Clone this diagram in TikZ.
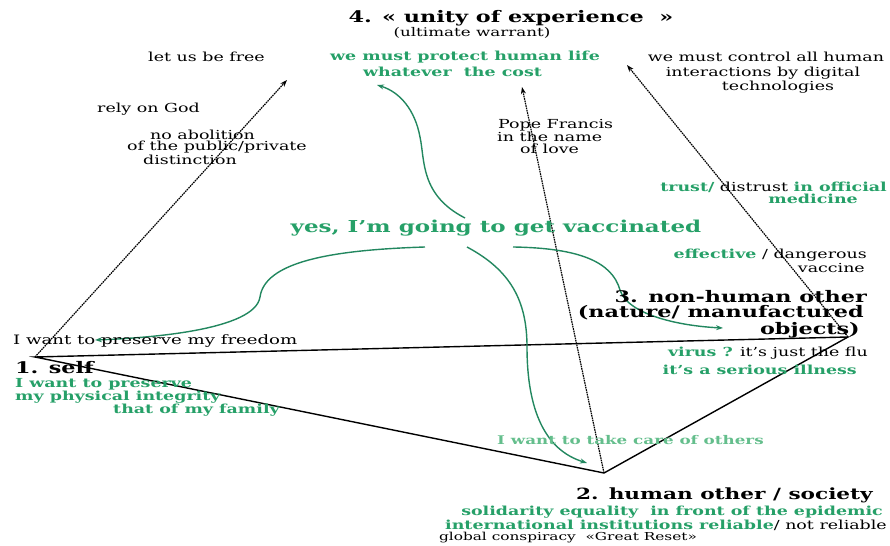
\documentclass[tikz,border=0pt]{standalone}
\usepackage{fontspec}
\setmainfont{DejaVu Serif}[FakeStretch=1.4]
\usetikzlibrary{arrows.meta}
\definecolor{vgreen}{RGB}{38,160,104}
\definecolor{cgreen}{RGB}{34,135,95}
\definecolor{pgreen}{RGB}{100,190,140}
\begin{document}
\begin{tikzpicture}[x=1bp,y=-1bp,
  txt/.style={inner sep=0pt, anchor=west, font=\fontsize{12.5}{14}\selectfont},
  gtxt/.style={txt, text=vgreen, font=\fontsize{12.5}{14}\selectfont\bfseries},
  head/.style={txt, font=\fontsize{16}{18}\selectfont\bfseries},
  side/.style={line width=1.4bp, black},
  axis/.style={dash pattern=on 1.6bp off 0.8bp, line width=1.2bp, -{Stealth[length=7bp,width=5bp]}},
  flow/.style={cgreen, line width=1.4bp, -{Stealth[length=7bp,width=5bp]}}
]
\useasboundingbox (0,0) rectangle (890,546);

% corners of the triangle
\coordinate (self) at (35,357);
\coordinate (hum) at (604,473);
\coordinate (nonhum) at (848,337);

% tips of the dotted axes
\coordinate (freeTip) at (287,80);
\coordinate (popeTip) at (522,87);
\coordinate (ctrlTip) at (627,65);

% ends of the green arrows
\coordinate (yesL) at (425,247);
\coordinate (yesU) at (465,218);
\coordinate (yesD) at (467,247);
\coordinate (yesR) at (513,247);
\coordinate (endL) at (95,340);
\coordinate (endU) at (377,85);
\coordinate (endD) at (587,463);
\coordinate (endR) at (723,328);

% triangle
\draw[side] (self) -- (nonhum) -- (hum) -- cycle;

% dotted axes
\draw[axis] (self) -- (freeTip);
\draw[axis] (hum) -- (popeTip);
\draw[axis] (nonhum) -- (ctrlTip);

% green arrows from the central statement
\draw[flow] (yesL) .. controls (330,250) and (265,262) .. (260,297)
  .. controls (255,330) and (150,338) .. (endL);
\draw[flow] (yesU) .. controls (420,195) and (425,160) .. (420,137)
  .. controls (415,110) and (400,92) .. (endU);
\draw[flow] (yesD) .. controls (510,270) and (527,300) .. (527,347)
  .. controls (527,410) and (545,450) .. (endD);
\draw[flow] (yesR) .. controls (580,248) and (612,262) .. (620,290)
  .. controls (628,315) and (680,326) .. (endR);

% pole 4
\node[head, anchor=center] (t4) at (511,18) {4. « unity of experience~ »};
\node[txt, anchor=center, font=\fontsize{12}{14}\selectfont] (tw) at (472,33) {(ultimate warrant)};
\node[txt] (free) at (148,57) {let us be free};
\node[gtxt] (prot1) at (330,57) {we must protect human life};
\node[gtxt] (prot2) at (363,72) {whatever~ the cost};
\node[txt, anchor=center] (ctrl1) at (766,57) {we must control all human};
\node[txt, anchor=center] (ctrl2) at (763,73) {interactions by digital};
\node[txt, anchor=center] (ctrl3) at (778,87) {technologies};
\node[txt] (god) at (97,109) {rely on God};
\node[txt] (abol1) at (150,135) {no abolition};
\node[txt] (abol2) at (127,147) {of the public/private};
\node[txt] (abol3) at (143,160) {distinction};
\node[txt] (pope1) at (498,125) {Pope Francis};
\node[txt] (pope2) at (497,137) {in the name};
\node[txt] (pope3) at (520,149) {of love};

% centre
\node[gtxt, anchor=center, font=\fontsize{16.5}{18}\selectfont\bfseries] (yes) at (496,228) {yes, I'm going to get vaccinated};

% pole 3
\node[txt, anchor=east] (trust1) at (887,187) {\textcolor{vgreen}{\bfseries trust/} distrust \textcolor{vgreen}{\bfseries in official}};
\node[gtxt, anchor=east] (trust2) at (858,199) {medicine};
\node[txt, anchor=east] (eff1) at (867,255) {\textcolor{vgreen}{\bfseries effective} / dangerous};
\node[txt, anchor=east] (eff2) at (865,268) {vaccine};
\node[head, anchor=east] (h3a) at (867,297) {3. non-human other};
\node[head, anchor=east] (h3b) at (864,313) {(nature/ manufactured};
\node[head, anchor=east] (h3c) at (860,330) {objects)};
\node[txt, anchor=east] (vir1) at (868,353) {\textcolor{vgreen}{\bfseries virus ?} it's just the flu};
\node[gtxt, anchor=east] (vir2) at (857,370) {it's a serious illness};

% pole 1
\node[txt, font=\fontsize{13}{15}\selectfont] (freedom) at (13,341) {I want to preserve my freedom};
\node[head] (h1) at (15,368) {1. self};
\node[gtxt] (s1) at (15,384) {I want to preserve};
\node[gtxt] (s2) at (15,397) {my physical integrity};
\node[gtxt] (s3) at (113,410) {that of my family};

% pole 2
\node[gtxt, text=pgreen, font=\fontsize{12}{14}\selectfont\bfseries] (care) at (497,440) {I want to take care of others};
\node[head, anchor=east, font=\fontsize{15.5}{18}\selectfont\bfseries] (h2) at (873,495) {2. human other / society};
\node[gtxt, anchor=east] (h2a) at (883,512) {solidarity equality~ in front of the epidemic};
\node[txt, anchor=east] (h2b) at (887,525) {\textcolor{vgreen}{\bfseries international institutions reliable}/ not reliable};
\node[txt, anchor=center, font=\fontsize{11}{13}\selectfont] (h2c) at (568,538) {global conspiracy~ «Great Reset»};
\end{tikzpicture}
\end{document}
